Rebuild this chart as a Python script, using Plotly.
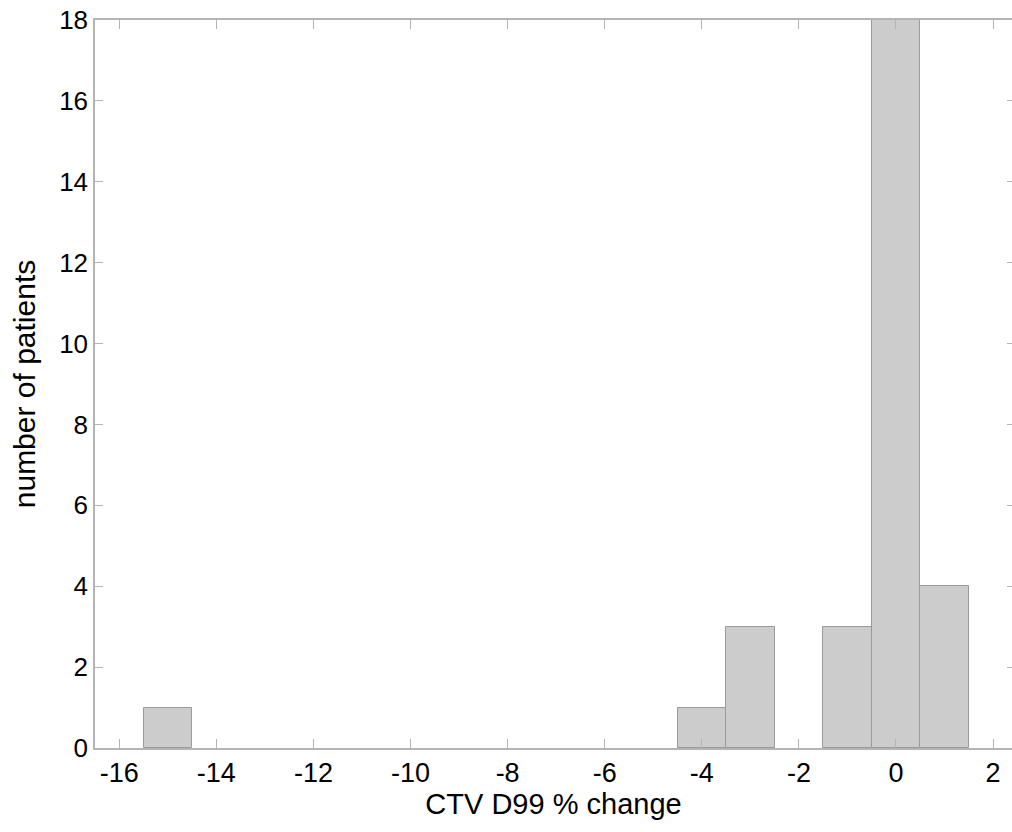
import plotly.graph_objects as go

# Data (bin centers, bin width 1)
bin_centers = [-15, -4, -3, -1, 0, 1]
patient_counts = [1, 1, 3, 3, 18, 4]
x_ticks = [-16, -14, -12, -10, -8, -6, -4, -2, 0, 2]
y_ticks = [0, 2, 4, 6, 8, 10, 12, 14, 16, 18]

AXIS_GRAY = "#b4b4b4"
FONT = "Liberation Sans, Arial, Helvetica, sans-serif"

fig = go.Figure()
fig.add_trace(go.Bar(
    x=bin_centers, y=patient_counts, width=1,
    marker=dict(color="#cccccc", line=dict(color="#9a9a9a", width=1)),
    showlegend=False, hoverinfo="x+y",
))
# invisible helper trace for right-hand tick marks
fig.add_trace(go.Scatter(x=[bin_centers[0]], y=[0], yaxis="y2", mode="markers",
                         marker=dict(opacity=0), showlegend=False, hoverinfo="skip"))

fig.update_layout(
    width=1012, height=832,
    margin=dict(l=95, r=0, t=20, b=84),
    paper_bgcolor="white", plot_bgcolor="white",
    font=dict(family=FONT, color="black"),
    bargap=0,
    xaxis=dict(
        range=[-16.5, 2.39], tickvals=x_ticks, ticktext=[str(v) for v in x_ticks],
        ticks="inside", ticklen=9, tickcolor=AXIS_GRAY, tickwidth=1,
        showline=True, linecolor=AXIS_GRAY, linewidth=1.5, mirror="ticks",
        showgrid=False, zeroline=False,
        tickfont=dict(size=27),
        title=dict(text="CTV D99 % change", font=dict(size=29), standoff=4),
    ),
    yaxis=dict(
        range=[0, 18], tickvals=y_ticks, ticktext=[str(v) for v in y_ticks],
        ticks="inside", ticklen=8, tickcolor=AXIS_GRAY, tickwidth=1,
        showline=True, linecolor=AXIS_GRAY, linewidth=1.5,
        showgrid=False, zeroline=False,
        tickfont=dict(size=26),
        title=dict(text="number of patients", font=dict(size=30), standoff=15),
    ),
    yaxis2=dict(
        overlaying="y", side="right", range=[0, 18], tickvals=y_ticks,
        ticks="inside", ticklen=5, tickcolor=AXIS_GRAY, tickwidth=1,
        showticklabels=False, showline=False, showgrid=False, zeroline=False,
    ),
)

fig.write_html("out.html")
